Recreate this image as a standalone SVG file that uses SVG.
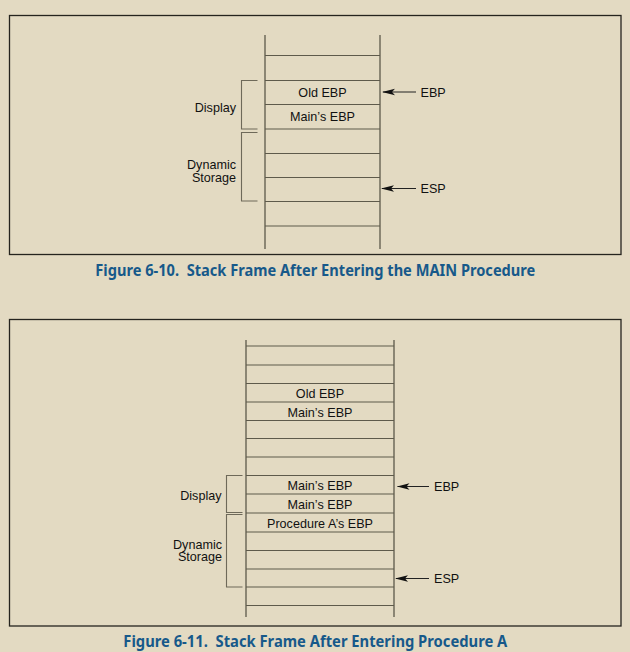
<svg xmlns="http://www.w3.org/2000/svg" width="630" height="652" viewBox="0 0 630 652">
<defs>
<style>
.frame{fill:none;stroke:#25241e;stroke-width:1.3}
.stk{fill:none;stroke:#5e5a4b;stroke-width:1.3}
.row{fill:none;stroke:#5e5a4b;stroke-width:1.1}
.brk{fill:none;stroke:#6e6959;stroke-width:1.1}
.arr{fill:none;stroke:#222;stroke-width:1}
.t{font-family:"Liberation Sans",Arial,sans-serif;font-size:12.6px;fill:#111}
.c{text-anchor:middle}
.e{text-anchor:end}
.cap{font-family:"Noto Sans","Open Sans",sans-serif;font-weight:bold;font-size:16px;fill:#17598a}
</style>
<marker id="ah" viewBox="0 0 14 8" refX="1" refY="4" markerWidth="14" markerHeight="8" markerUnits="userSpaceOnUse" orient="auto">
<path d="M0,4 L13,0.8 L10,4 L13,7.2 Z" fill="#111"/>
</marker>
</defs>
<rect width="630" height="652" fill="#e3dac2"/>

<g id="figure-6-10">
<rect class="frame" x="9.5" y="15.5" width="611.5" height="239"/>
<g id="stack1">
<path class="stk" d="M265,35 V249 M380,35 V249"/>
<path class="row" d="M265,55.5 H380 M265,80.5 H380 M265,104.5 H380 M265,129 H380 M265,153.5 H380 M265,177.5 H380 M265,201.5 H380 M265,226 H380"/>
</g>
<g id="cell1-old-ebp"><text class="t c" x="322.5" y="96.5">Old EBP</text></g>
<g id="cell1-mains-ebp"><text class="t c" x="322.5" y="121">Main’s EBP</text></g>
<g id="display1">
<path class="brk" d="M257.5,80.5 H241.5 V129 H257.5"/>
<text class="t e" x="236" y="111.5">Display</text>
</g>
<g id="dynamic1">
<path class="brk" d="M257.5,132.5 H241.5 V201 H257.5"/>
<text class="t e" x="236" y="169">Dynamic</text>
<text class="t e" x="236" y="181.5">Storage</text>
</g>
<g id="ebp1"><text class="t" x="420.5" y="96.5">EBP</text></g>
<g id="esp1"><text class="t" x="420.5" y="193">ESP</text></g>
<text class="cap" x="95.3" y="276" textLength="440" lengthAdjust="spacingAndGlyphs" xml:space="preserve">Figure 6-10.  Stack Frame After Entering the MAIN Procedure</text>
</g>

<g id="figure-6-11">
<rect class="frame" x="9.5" y="319.5" width="611.5" height="306.5"/>
<g id="stack2">
<path class="stk" d="M246,340 V617 M394,340 V617"/>
<path class="row" d="M246,346 H394 M246,365 H394 M246,383.5 H394 M246,402 H394 M246,420.5 H394 M246,438.5 H394 M246,457 H394 M246,475.5 H394 M246,494 H394 M246,513 H394 M246,532 H394 M246,550.5 H394 M246,569 H394 M246,587 H394 M246,605.5 H394"/>
</g>
<g id="cell2-old-ebp"><text class="t c" x="320" y="397.5">Old EBP</text></g>
<g id="cell2-mains-ebp-a"><text class="t c" x="320" y="416.5">Main’s EBP</text></g>
<g id="cell2-mains-ebp-b"><text class="t c" x="320" y="490">Main’s EBP</text></g>
<g id="cell2-mains-ebp-c"><text class="t c" x="320" y="509">Main’s EBP</text></g>
<g id="cell2-proc-a-ebp"><text class="t c" x="320" y="527.5">Procedure A’s EBP</text></g>
<g id="display2">
<path class="brk" d="M242.5,475.5 H226.5 V512.5 H242.5"/>
<text class="t e" x="221.5" y="499.5">Display</text>
</g>
<g id="dynamic2">
<path class="brk" d="M242.5,514.5 H226.5 V587 H242.5"/>
<text class="t e" x="222" y="548.5">Dynamic</text>
<text class="t e" x="222" y="561">Storage</text>
</g>
<g id="ebp2"><text class="t" x="434" y="490.5">EBP</text></g>
<g id="esp2"><text class="t" x="434" y="582.5">ESP</text></g>
<text class="cap" x="123.3" y="646.5" textLength="384" lengthAdjust="spacingAndGlyphs" xml:space="preserve">Figure 6-11.  Stack Frame After Entering Procedure A</text>
</g>

<g id="connectors">
<path class="arr" d="M383,92 H416" marker-start="url(#ah)"/>
<path class="arr" d="M382,188.5 H416" marker-start="url(#ah)"/>
<path class="arr" d="M397.5,486.5 H429" marker-start="url(#ah)"/>
<path class="arr" d="M396,578.5 H429" marker-start="url(#ah)"/>
</g>
</svg>
